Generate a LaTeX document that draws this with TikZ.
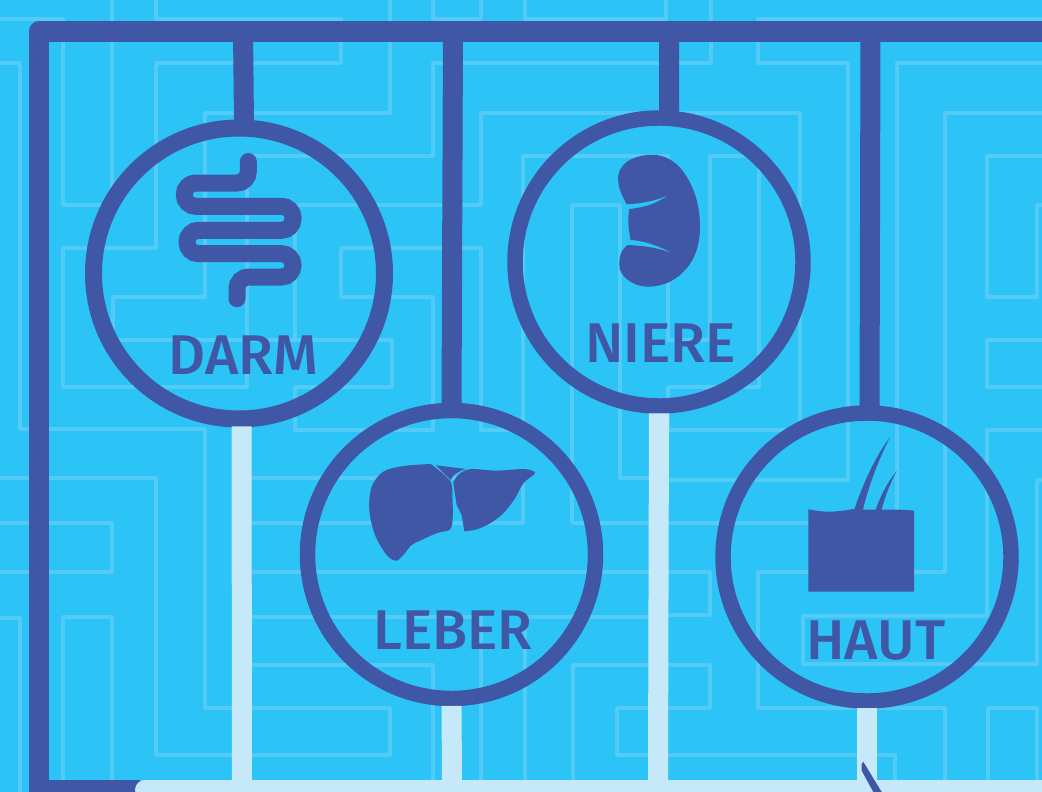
\documentclass[tikz,border=0pt]{standalone}
\usepackage{fontspec}
\setmainfont{Fira Sans}[UprightFont=* Medium, FakeStretch=1.02, Kerning=Off]
\definecolor{skyback}{RGB}{44,196,246}
\definecolor{mazeline}{RGB}{84,202,247}
\definecolor{darkblue}{RGB}{63,87,165}
\definecolor{paleblue}{RGB}{198,233,250}
\begin{document}
\begin{tikzpicture}[x=0.75pt, y=-0.75pt,
    maze/.style={mazeline, line width=2.3pt, line join=round},
    ring/.style={circle, draw=darkblue, line width=11.6pt, minimum size=216pt, inner sep=0pt, outer sep=0pt},
    hang/.style={darkblue, line width=15pt},
    feed/.style={paleblue, line width=15pt, shorten <=5.5pt},
    organname/.style={darkblue, font=\fontsize{42}{42}\selectfont, inner sep=0pt},
    organ/.style={fill=darkblue, draw=none}]
    \clip (0,0) rectangle (1042,792);
    \fill[skyback] (0,0) rectangle (1042,792);
    % background lines
    \draw[maze] (112,0) -- (112,205) -- (63,205) -- (63,19) -- (0,19);
    \draw[maze] (0,63) -- (20,63) -- (20,429) -- (205,429) -- (205,708) -- (390,708) -- (390,755) -- (156,755) -- (156,478) -- (0,478);
    \draw[maze] (711,0) -- (711,63) -- (433,63) -- (433,156) -- (247,156) -- (247,387) -- (63,387) -- (63,248) -- (156,248) -- (156,63) -- (341,63) -- (341,19) -- (156,19) -- (156,0);
    \draw[maze] (390,0) -- (390,113) -- (205,113) -- (205,297) -- (113,297) -- (113,340) -- (392,340) -- (392,387) -- (295,387) -- (295,430) -- (433,430) -- (433,297) -- (341,297) -- (341,248) -- (481,248) -- (481,430) -- (523,430) -- (523,156) -- (668,156) -- (668,340) -- (710,340) -- (710,156) -- (759,156) -- (759,387) -- (668,387) -- (668,430) -- (800,430) -- (800,113) -- (481,113) -- (481,205) -- (295,205) -- (295,340);
    \draw[maze] (433,0) -- (433,19) -- (481,19) -- (481,0);
    \draw[maze] (525,0) -- (525,19) -- (666,19) -- (666,0);
    \draw[maze] (1042,19) -- (758,19) -- (758,63) -- (848,63) -- (848,480) -- (650,480);
    \draw[maze] (1042,63) -- (897,63) -- (897,523) -- (650,523);
    \draw[maze] (1042,113) -- (945,113) -- (945,572) -- (758,572) -- (758,708) -- (945,708) -- (945,792);
    \draw[maze] (1042,156) -- (987,156) -- (987,297) -- (1037,297) -- (1037,205) -- (1042,205);
    \draw[maze] (1042,340) -- (987,340) -- (987,387) -- (1042,387);
    \draw[maze] (1042,430) -- (987,430) -- (987,616) -- (803,616) -- (803,664) -- (1037,664) -- (1037,480) -- (1042,480);
    \draw[maze] (988,792) -- (988,708) -- (1037,708) -- (1037,792);
    \draw[maze] (0,523) -- (112,523) -- (112,572) -- (0,572);
    \draw[maze] (0,618) -- (20,618) -- (20,792);
    \draw[maze] (63,792) -- (63,617) -- (112,617) -- (112,792);
    \draw[maze] (247,478) -- (523,478) -- (523,523) -- (247,523);
    \draw[maze] (247,572) -- (710,572) -- (710,615) -- (650,615);
    \draw[maze] (247,617) -- (481,617) -- (481,792);
    \draw[maze] (525,792) -- (525,617) -- (650,617);
    \draw[maze] (247,665) -- (433,665) -- (433,792);
    \draw[maze] (573,792) -- (573,665) -- (710,665) -- (710,708) -- (617,708) -- (617,755) -- (895,755) -- (895,792);
    \draw[maze] (572,523) -- (572,205) -- (620,205) -- (620,478) -- (650,478);
    \draw[maze] (572,523) -- (650,523);
    % frame and bottom bar
    \draw[darkblue, line width=15.4pt, line join=round] (140,790) -- (39,790) -- (39,31.5) -- (1060,31.5);
    \draw[paleblue, line width=15pt, line cap=round] (145,790) -- (1060,790);
    % organs
    \node[ring, line width=12.75pt, minimum size=218.25pt] (darm) at (239,273.5) {};
    \node[ring] (leber) at (451.5,554.5) {};
    \node[ring] (niere) at (659,262) {};
    \node[ring] (haut) at (867,557) {};
    \node[organname] (darmname) at (243,355.5) {DARM};
    \node[organname] (lebername) at (453,630) {LEBER};
    \node[organname] (nierename) at (660.5,343) {NIERE};
    \node[organname] (hautname) at (876,641) {HAUT};
    % connectors
    \coordinate (topdarm) at (243,31);
    \coordinate (topleber) at (453,31);
    \coordinate (topniere) at (669,31);
    \coordinate (tophaut) at (870.5,31);
    \coordinate (footdarm) at (242,785);
    \coordinate (footleber) at (452,785);
    \coordinate (footniere) at (658,785);
    \coordinate (foothaut) at (867,785);
    \draw[hang] (topdarm) -- (darm.88);
    \draw[hang] (topleber) -- (leber.north);
    \draw[hang] (topniere) -- (niere.86);
    \draw[hang] (tophaut) -- (haut.89);
    \draw[feed] (darm.-89) -- (footdarm);
    \draw[feed] (leber.south) -- (footleber);
    \draw[feed] (niere.south) -- (footniere);
    \draw[feed] (haut.south) -- (foothaut);
    % gut
    \draw[darkblue, line width=12.75pt, line cap=round, rounded corners=8.6pt] (248.3,161.5) -- (248.3,183) -- (184.3,183) -- (184.3,206.3) -- (293,206.3) -- (293,230.3) -- (187,230.3) -- (187,253.7) -- (293,253.7) -- (293,277) -- (237,277) -- (237,298.7);
    % liver
    \begin{scope}[shift={(340,440)}, x=0.25pt, y=-0.25pt]
        \fill[organ] plot[smooth, tension=0.55] coordinates {(272,72) (330,122) (337,170) (338,235) (330,268) (295,278) (270,288) (245,300) (215,315) (190,345) (168,362) (140,345) (105,285) (88,210) (95,140) (130,95) (190,78) (272,72)} -- cycle;
        \fill[organ] (288,76) -- (378,87) .. controls (350,95) and (340,105) .. (332,120) -- cycle;
        \fill[organ] plot[smooth, tension=0.55] coordinates {(340,125) (360,100) (395,87) (470,92) (550,87) (583,95) (580,105) (550,130) (525,175) (490,220) (450,250) (410,268) (373,274)} -- (365,225) -- (350,195) -- (343,150) -- cycle;
    \end{scope}
    % kidney
    \begin{scope}[shift={(590,140)}, x=0.25pt, y=-0.25pt]
        \fill[organ] plot[smooth, tension=0.6] coordinates {(110,193) (90,150) (85,105) (105,70) (145,50) (200,45) (250,65) (290,110) (320,180) (330,260) (320,330) (290,385) (240,425) (180,440) (130,430) (95,400) (88,365) (95,335) (112,315)} .. controls (170,318) and (210,325) .. (248,340) .. controls (210,320) and (170,303) .. (122,300) .. controls (115,265) and (112,240) .. (118,207) .. controls (165,203) and (205,188) .. (235,165) .. controls (200,182) and (160,190) .. (110,193) -- cycle;
    \end{scope}
    % skin and hairs
    \begin{scope}[shift={(780,420)}, x=0.25pt, y=-0.25pt]
        \fill[organ] (85,268) .. controls (130,277) and (160,278) .. (220,267) .. controls (280,272) and (340,265) .. (402,272) -- (402,515) -- (85,515) -- cycle;
        \fill[organ] (222,272) .. controls (245,200) and (285,110) .. (330,52) .. controls (295,120) and (265,200) .. (248,272) -- cycle;
        \fill[organ] (285,275) .. controls (300,230) and (320,190) .. (350,153) .. controls (330,190) and (315,230) .. (303,275) -- cycle;
    \end{scope}
    % stray stroke at the bottom
    \fill[organ] (861.7,764) -- (863.3,761.7) -- (881.7,792) -- (873.3,792) -- (861.7,770.7) -- cycle;
\end{tikzpicture}
\end{document}
